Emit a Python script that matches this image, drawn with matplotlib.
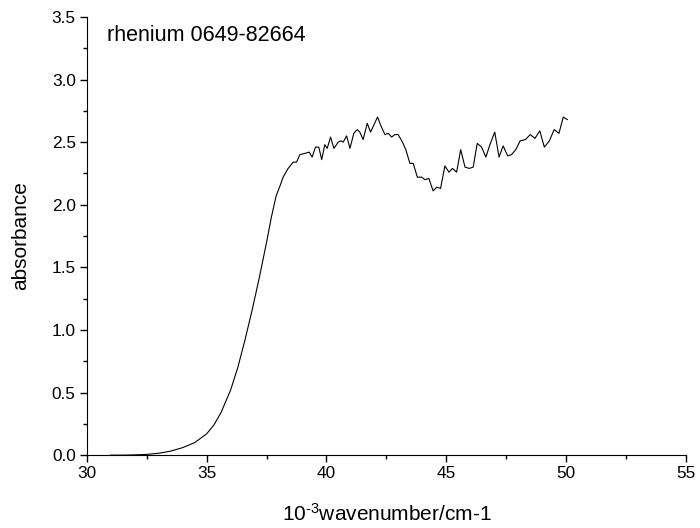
import matplotlib
matplotlib.use("Agg")
import matplotlib.pyplot as plt
from matplotlib.ticker import MultipleLocator

plt.rcParams['font.family'] = ['Liberation Sans', 'DejaVu Sans']
plt.rcParams['mathtext.fontset'] = 'custom'
plt.rcParams['mathtext.rm'] = 'Liberation Sans'
plt.rcParams['mathtext.default'] = 'regular'

# wavenumber (10^3 cm-1) and absorbance
wn = [31.0, 31.5, 32.0, 32.5, 33.0, 33.5, 34.0, 34.5, 35.0, 35.3, 35.6, 36.0,
      36.3, 36.6, 36.9, 37.2, 37.5, 37.7, 37.9, 38.06, 38.19, 38.4, 38.61, 38.75,
      38.89, 39.10, 39.28, 39.40, 39.54, 39.68, 39.80, 39.93, 40.03, 40.17, 40.31,
      40.49, 40.60, 40.70, 40.84, 40.98, 41.14, 41.28, 41.39, 41.53, 41.70, 41.84,
      42.13, 42.27, 42.44, 42.58, 42.72, 42.85, 42.99, 43.17, 43.31, 43.48, 43.62,
      43.79, 43.97, 44.11, 44.27, 44.45, 44.60, 44.76, 44.94, 45.11, 45.26, 45.43,
      45.60, 45.78, 45.96, 46.12, 46.29, 46.47, 46.65, 46.82, 47.02, 47.20, 47.37,
      47.56, 47.72, 47.90, 48.08, 48.30, 48.50, 48.70, 48.90, 49.09, 49.30, 49.50,
      49.70, 49.88, 50.05]
absorb = [0.0, 0.0, 0.002, 0.006, 0.015, 0.032, 0.06, 0.10, 0.17, 0.24, 0.34, 0.52,
          0.70, 0.92, 1.16, 1.42, 1.70, 1.90, 2.07, 2.15, 2.22, 2.29, 2.34, 2.34,
          2.40, 2.41, 2.42, 2.38, 2.46, 2.46, 2.36, 2.48, 2.45, 2.54, 2.45,
          2.50, 2.51, 2.50, 2.55, 2.45, 2.57, 2.60, 2.58, 2.52, 2.65, 2.58,
          2.70, 2.63, 2.56, 2.57, 2.54, 2.56, 2.56, 2.50, 2.44, 2.33, 2.33,
          2.22, 2.22, 2.20, 2.21, 2.11, 2.14, 2.13, 2.31, 2.26, 2.29, 2.26,
          2.44, 2.30, 2.29, 2.30, 2.49, 2.46, 2.38, 2.48, 2.58, 2.38, 2.47,
          2.39, 2.40, 2.44, 2.51, 2.52, 2.56, 2.53, 2.59, 2.46, 2.51, 2.60,
          2.57, 2.70, 2.68]

fig = plt.figure(figsize=(7, 5.28), dpi=100)
ax = fig.add_axes([0.124, 0.138, 0.856, 0.83])
ax.plot(wn, absorb, color='black', linewidth=0.8)

ax.set_xlim(30, 55)
ax.set_ylim(0, 3.5)
ax.xaxis.set_major_locator(MultipleLocator(5))
ax.xaxis.set_minor_locator(MultipleLocator(2.5))
ax.yaxis.set_major_locator(MultipleLocator(0.5))
ax.yaxis.set_minor_locator(MultipleLocator(0.25))
ax.yaxis.set_major_formatter(plt.FormatStrFormatter('%.1f'))

ax.spines['top'].set_visible(False)
ax.spines['right'].set_visible(False)
ax.tick_params(which='both', direction='out', labelsize=12.4, width=1)
ax.tick_params(which='major', length=5, pad=3)
ax.tick_params(which='minor', length=3)

ax.set_xlabel('10$^{\\text{-3}}$wavenumber/cm-1', fontsize=15)
ax.set_ylabel('absorbance', fontsize=15)
ax.xaxis.set_label_coords(0.5, -0.108)
ax.yaxis.set_label_coords(-0.094, 0.5)
ax.text(0.033, 0.945, 'rhenium 0649-82664', transform=ax.transAxes,
        fontsize=15.5, va='baseline', ha='left')

fig.savefig('out.png', dpi=100)
